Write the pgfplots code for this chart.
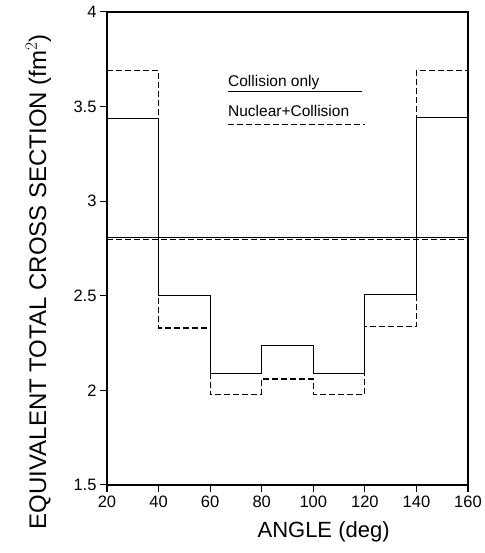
\documentclass[border=0pt]{standalone}
\usepackage{pgfplots}
\pgfplotsset{compat=1.18}
\usepackage{fontspec}
\setmainfont{Liberation Sans}

\begin{document}
\begin{tikzpicture}
\begin{axis}[
scale only axis,
width=361pt, height=473pt,
xmin=20, xmax=160,
ymin=1.5, ymax=4,
xtick={20,40,...,160},
ytick={1.5,2,2.5,3,3.5,4},
yticklabels={1.5,2,2.5,3,3.5,4},
xtick pos=left, ytick pos=left,
xtick align=outside, ytick align=outside,
major tick length=7pt,
every tick/.append style={black, line width=1pt},
x tick style={black, line width=1.2pt},
axis line style={line width=1.3pt},
tick label style={font=\fontsize{16.5}{16.5}\selectfont},
/pgf/number format/assume math mode=true,
xlabel={ANGLE (deg)},
ylabel={EQUIVALENT TOTAL CROSS SECTION (fm$^{2}$)},
xlabel style={font=\fontsize{22}{22}\selectfont, at={(axis description cs:0.6,-0.07)}, anchor=north},
ylabel style={font=\fontsize{24}{24}\selectfont, at={(axis description cs:-0.19,0.43)}, anchor=center},
clip=false,
]
\coordinate (bl) at (rel axis cs:0,0);
\coordinate (tr) at (rel axis cs:1,1);

% Collision only
\addplot[const plot, black, line width=1.1pt] coordinates {
(20,3.437) (40,2.500) (60,2.088) (80,2.237) (100,2.090) (120,2.507) (140,3.440) (160,3.440)};
\addplot[black, line width=1.1pt] coordinates {(20,2.81) (160,2.81)};
% Nuclear+Collision
\addplot[const plot, black, line width=1.1pt, dash pattern=on 6pt off 3pt] coordinates {
(20,3.69) (40,2.33) (60,1.98) (80,2.06) (100,1.98) (120,2.337) (140,3.69) (160,3.69)};
\addplot[black, line width=1pt, dash pattern=on 6pt off 3pt] coordinates {(20,2.80) (160,2.80)};

% legend
\node[anchor=base west, inner sep=0pt, font=\fontsize{15.5}{15.5}\selectfont] at (axis cs:66.9,3.605) {Collision only};
\draw[line width=1.1pt] (axis cs:66.9,3.58) -- (axis cs:118.9,3.58);
\node[anchor=base west, inner sep=0pt, font=\fontsize{15.5}{15.5}\selectfont] at (axis cs:66.9,3.447) {Nuclear+Collision};
\draw[line width=1.1pt, dash pattern=on 6pt off 3pt] (axis cs:66.9,3.405) -- (axis cs:120,3.405);
\end{axis}
\pgfresetboundingbox
\path (bl) ++(-107pt,-68pt) coordinate (a);
\path (tr) ++(16pt,12pt) coordinate (b);
\path[use as bounding box] (a) rectangle (b);
\end{tikzpicture}
\end{document}
